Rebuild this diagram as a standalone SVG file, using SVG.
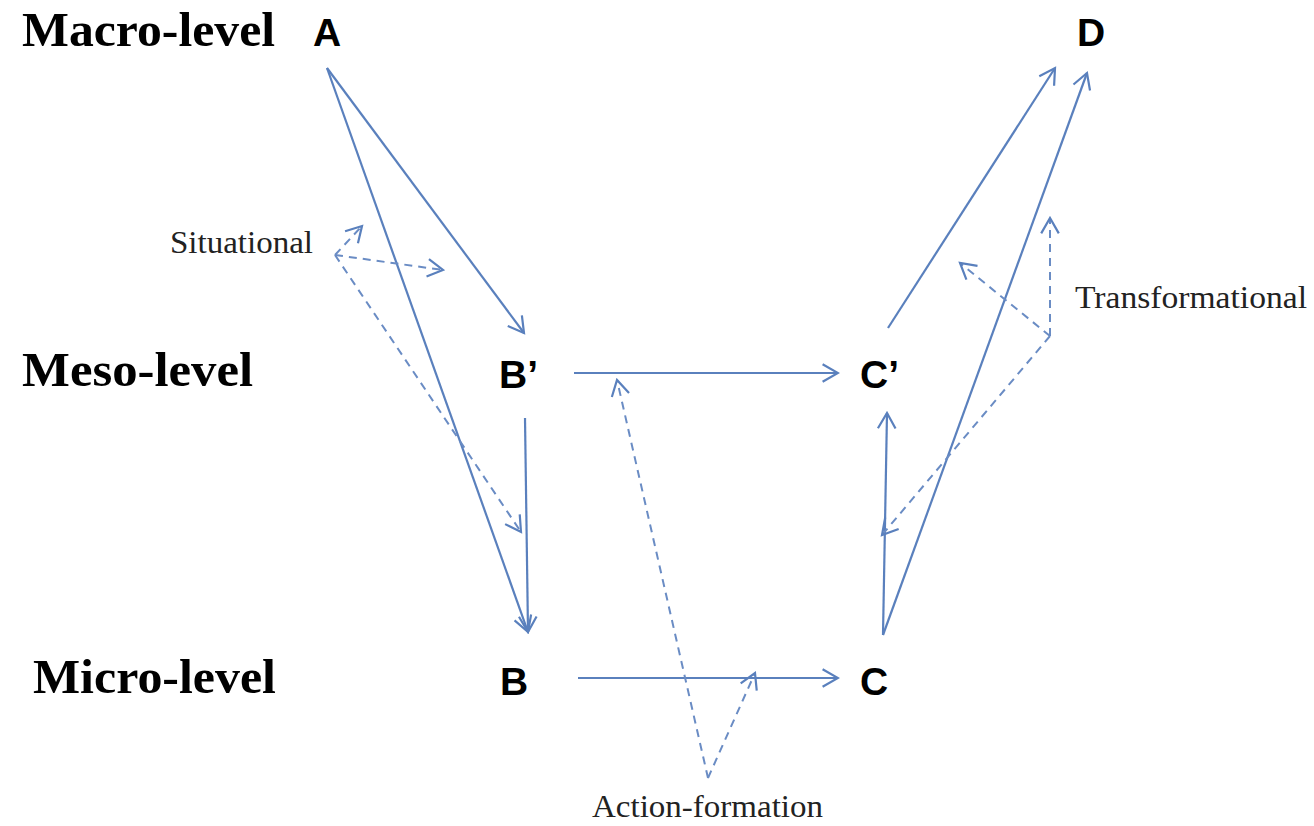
<svg xmlns="http://www.w3.org/2000/svg" width="1314" height="826" viewBox="0 0 1314 826">
<style>
.lvl{font-family:"Liberation Serif","Times New Roman",serif;font-weight:bold;font-size:48px;fill:#000}
.nd{font-family:"Liberation Sans",Arial,sans-serif;font-weight:bold;font-size:39px;fill:#000}
.lb{font-family:"Liberation Serif","Times New Roman",serif;font-size:32px;fill:#222}
.s{stroke:#5a80bd;stroke-width:2.2;fill:none;marker-end:url(#ah)}
.d{stroke:#6a8cc4;stroke-width:2;fill:none;stroke-dasharray:8 6;marker-end:url(#ah)}
</style>
<defs>
<marker id="ah" markerUnits="userSpaceOnUse" viewBox="0 0 20 20" refX="18" refY="10" markerWidth="22" markerHeight="22" orient="auto">
<path d="M4,2 L18,10 L4,18" fill="none" stroke="#5a80bd" stroke-width="2"/>
</marker>
</defs>
<rect width="1314" height="826" fill="#fff"/>
<g id="levels">
<text class="lvl" x="22" y="46" textLength="253" lengthAdjust="spacingAndGlyphs">Macro-level</text>
<text class="lvl" x="22" y="386" textLength="231" lengthAdjust="spacingAndGlyphs">Meso-level</text>
<text class="lvl" x="33" y="693" textLength="243" lengthAdjust="spacingAndGlyphs">Micro-level</text>
</g>
<g id="node-A"><text class="nd" x="313" y="46">A</text></g>
<g id="node-Bp"><text class="nd" x="499" y="388">B’</text></g>
<g id="node-B"><text class="nd" x="500" y="695">B</text></g>
<g id="node-Cp"><text class="nd" x="860" y="388">C’</text></g>
<g id="node-C"><text class="nd" x="860" y="695">C</text></g>
<g id="node-D"><text class="nd" x="1077" y="46">D</text></g>
<g id="labels">
<text class="lb" x="170" y="253" textLength="143" lengthAdjust="spacingAndGlyphs">Situational</text>
<text class="lb" x="1075" y="308" textLength="232" lengthAdjust="spacingAndGlyphs">Transformational</text>
<text class="lb" x="592" y="817" textLength="231" lengthAdjust="spacingAndGlyphs">Action-formation</text>
</g>
<g id="connectors">
<line class="s" x1="327" y1="68" x2="524" y2="333"/>
<line class="s" x1="327" y1="68" x2="528" y2="632"/>
<line class="s" x1="525" y1="418" x2="528" y2="632"/>
<line class="s" x1="574" y1="373" x2="838" y2="373"/>
<line class="s" x1="578" y1="678" x2="838" y2="678"/>
<line class="s" x1="883" y1="635" x2="887" y2="413"/>
<line class="s" x1="883" y1="635" x2="1087" y2="73"/>
<line class="s" x1="888" y1="328" x2="1055" y2="68"/>
<line class="d" x1="335" y1="255" x2="362" y2="226"/>
<line class="d" x1="335" y1="255" x2="443" y2="270"/>
<line class="d" x1="335" y1="255" x2="521" y2="532"/>
<line class="d" x1="708" y1="778" x2="617" y2="380"/>
<line class="d" x1="708" y1="778" x2="755" y2="673"/>
<line class="d" x1="1050" y1="336" x2="1050" y2="218"/>
<line class="d" x1="1050" y1="336" x2="960" y2="263"/>
<line class="d" x1="1050" y1="336" x2="882" y2="535"/>
</g>
</svg>
